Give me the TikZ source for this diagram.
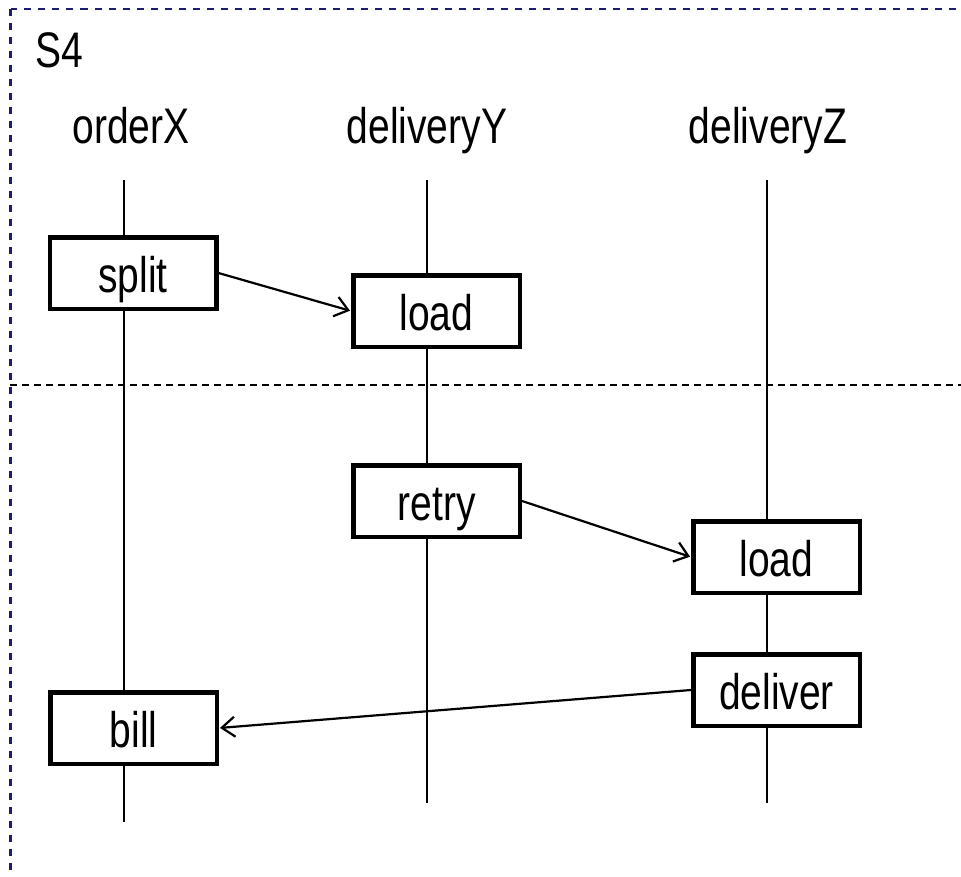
\documentclass[tikz,border=0pt]{standalone}
\usepackage{fontspec}
\setmainfont{Liberation Sans}[FakeStretch=0.78]
\usetikzlibrary{arrows.meta}
\definecolor{framecol}{RGB}{28,28,115}
\begin{document}
\begin{tikzpicture}[x=1pt,y=-1pt,
  lbl/.style={font=\fontsize{50}{58}\selectfont, inner sep=0pt},
  actbox/.style={draw, line width=4.5pt, fill=white, minimum width=166.5pt, minimum height=71.5pt, inner sep=0pt, text height=39pt, text depth=0pt, font=\fontsize{50}{58}\selectfont},
  lifeline/.style={line width=2pt},
  msg/.style={line width=2.2pt, shorten >=1pt, -{Straight Barb[length=13pt,width=20pt,line width=2.2pt]}},
  sep/.style={line width=2.5pt, dash pattern=on 7pt off 5pt},
  frame/.style={draw=framecol, line width=2.5pt, dash pattern=on 7pt off 7pt},
]
\useasboundingbox (0,0) rectangle (961,876);
\clip (0,0) rectangle (961,876);
\draw[frame] (10.5,9) rectangle (1000,920);
\coordinate (sepL) at (10,385);
\coordinate (sepR) at (961,385);
\draw[sep] (sepL) -- (sepR);

\node[lbl, anchor=base west] (s4) at (35,67) {S4};
\node[lbl, anchor=base] (hx) at (131,143) {orderX};
\node[lbl, anchor=base] (hy) at (427,143) {deliveryY};
\node[lbl, anchor=base] (hz) at (768,143) {deliveryZ};

\coordinate (xtop) at (124,180);
\coordinate (xbot) at (124,822);
\coordinate (ytop) at (427,180);
\coordinate (ybot) at (427,803);
\coordinate (ztop) at (767,180);
\coordinate (zbot) at (767,803);
\draw[lifeline] (xtop) -- (xbot);
\draw[lifeline] (ytop) -- (ybot);
\draw[lifeline] (ztop) -- (zbot);

\node[actbox] (split) at (133,273) {split};
\node[actbox] (loady) at (436.5,311) {load};
\node[actbox] (retry) at (436.5,501) {retry};
\node[actbox] (loadz) at (776.5,557) {load};
\node[actbox] (deliver) at (776.5,690) {deliver};
\node[actbox] (bill) at (133.5,728) {bill};

\draw[msg] (split.east) -- (loady.west);
\draw[msg] (retry.east) -- (loadz.west);
\draw[msg] (deliver.west) -- (bill.east);
\end{tikzpicture}
\end{document}
